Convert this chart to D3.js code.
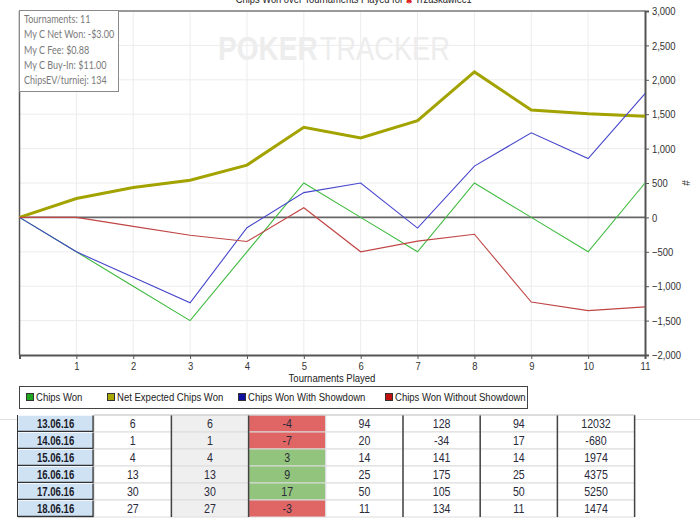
<!DOCTYPE html>
<html><head><meta charset="utf-8">
<script src="https://cdn.jsdelivr.net/npm/d3@7"></script>
<style>body{margin:0;background:#fff;overflow:hidden}svg{display:block}</style>
</head><body>
<script>
// ---- data ----
const tournaments = [0,1,2,3,4,5,6,7,8,9,10,11];
const chipsWon       = [0,-500,-1000,-1500,-500,500,0,-500,500,0,-500,500];
const netExpected    = [0,275,435,540,760,1310,1155,1405,2115,1560,1505,1470];
const wonShowdown    = [0,-500,-870,-1240,-150,360,500,-155,745,1230,855,1800];
const wonNoShowdown  = [0,0,-130,-260,-350,140,-500,-345,-245,-1230,-1355,-1300];
const yTicks = [-2000,-1500,-1000,-500,0,500,1000,1500,2000,2500,3000];
const xTicks = [1,2,3,4,5,6,7,8,9,10,11];
const legendLabels = ["Chips Won","Net Expected Chips Won","Chips Won With Showdown","Chips Won Without Showdown"];
const infoLines = ["Tournaments: 11","My C Net Won: -$3.00","My C Fee: $0.88","My C Buy-In: $11.00","ChipsEV/turniej: 134"];
const dates = ["13.06.16","14.06.16","15.06.16","16.06.16","17.06.16","18.06.16"];
const colA = [6,1,4,13,30,27];
const colB = [6,1,4,13,30,27];
const colC = [-4,-7,3,9,17,-3];
const colD = [94,20,14,25,50,11];
const colE = [128,-34,141,175,105,134];
const colF = [94,17,14,25,50,11];
const colG = [12032,-680,1974,4375,5250,1474];

const series = [
  {name:legendLabels[0], values:chipsWon, color:"#3dba3d", width:1.1, sw:"#1fa51f"},
  {name:legendLabels[1], values:netExpected, color:"#a3a300", width:3, sw:"#a8a800"},
  {name:legendLabels[2], values:wonShowdown, color:"#4545cc", width:1.1, sw:"#1010a0"},
  {name:legendLabels[3], values:wonNoShowdown, color:"#c04545", width:1.1, sw:"#c01010"}
];
const sans = "'Liberation Sans',Arial,sans-serif";
// horizontally condense a text element by scaling around its anchor point
function condense(sel,k){
  sel.each(function(){
    const s=d3.select(this);
    const tx=+s.attr("x")||0, ty=+s.attr("y")||0;
    const prev=s.attr("transform")||"";
    s.attr("x",0).attr("y",0).attr("transform",`${prev} translate(${tx},${ty}) scale(${k},1)`);
  });
}

const W=700,H=522;
const svg = d3.select("body").append("svg").attr("width",W).attr("height",H);
const L=19.5,R=645,T=11,B=355;
const x = d3.scaleLinear().domain([0,11]).range([L,R]);
const y = d3.scaleLinear().domain([-2000,3000]).range([B,T]);

// title (partly above the top edge, as in the source)
const t1 = svg.append("text").attr("x",403).attr("y",3).attr("text-anchor","end")
  .attr("font-family",sans).attr("font-size",11).attr("fill","#222").text("Chips Won over Tournaments Played for");
condense(t1,0.85);
svg.append("text").attr("x",409).attr("y",4).attr("text-anchor","middle")
  .attr("font-family","'DejaVu Sans',sans-serif").attr("font-size",9).attr("fill","#e02020").text("♠");
const t3 = svg.append("text").attr("x",415).attr("y",3)
  .attr("font-family",sans).attr("font-size",11).attr("fill","#222").text("Trzaskawiec1");
condense(t3,0.85);

// grid
svg.append("g").selectAll("line").data(xTicks.slice(0,-1)).join("line")
  .attr("x1",d=>x(d)).attr("x2",d=>x(d)).attr("y1",T).attr("y2",B)
  .attr("stroke","#ececec").attr("stroke-width",1);
svg.append("g").selectAll("line").data(yTicks.filter(v=>v!==0&&v!==3000&&v!==-2000)).join("line")
  .attr("x1",L).attr("x2",R).attr("y1",d=>y(d)).attr("y2",d=>y(d))
  .attr("stroke","#ececec").attr("stroke-width",1);

// watermark
const wm1 = svg.append("text").attr("x",218).attr("y",60).attr("font-family",sans).attr("font-weight","bold")
  .attr("font-size",33).attr("fill","#ededed").text("POKER");
const w1 = wm1.node().getComputedTextLength();
condense(wm1,0.85);
const wm2 = svg.append("text").attr("font-family",sans)
  .attr("font-size",33).attr("fill","#ededed").text("TRACKER");
const w2 = wm2.node().getComputedTextLength();
const x2 = 218 + w1*0.85 + 2;
wm2.attr("x",x2).attr("y",60);
condense(wm2,(450-x2)/w2);

// frame
svg.append("line").attr("x1",L).attr("x2",R).attr("y1",T).attr("y2",T).attr("stroke","#999").attr("stroke-width",2);
svg.append("line").attr("x1",L).attr("x2",L).attr("y1",T).attr("y2",B).attr("stroke","#555").attr("stroke-width",1.5);
// zero line
svg.append("line").attr("x1",L).attr("x2",R).attr("y1",y(0)).attr("y2",y(0)).attr("stroke","#666").attr("stroke-width",1.6);

// axes
const yAxis = d3.axisRight(y).tickValues(yTicks).tickSize(4).tickPadding(3).tickFormat(d3.format(","));
const gy = svg.append("g").attr("transform",`translate(${R},0)`).call(yAxis);
gy.select(".domain").attr("stroke","#555").attr("stroke-width",2);
gy.selectAll(".tick line").attr("stroke","#555");
gy.selectAll("text").attr("font-family",sans).attr("font-size",11.5).attr("fill","#333")
  .attr("textLength",function(){return this.getComputedTextLength()*0.82;}).attr("lengthAdjust","spacingAndGlyphs");

const xAxis = d3.axisBottom(x).tickValues(xTicks).tickSize(4).tickPadding(3).tickFormat(d3.format("d"));
const gx = svg.append("g").attr("transform",`translate(0,${B})`).call(xAxis);
gx.select(".domain").attr("stroke","#555").attr("stroke-width",2);
gx.selectAll(".tick line").attr("stroke","#555");
gx.selectAll("text").attr("font-family",sans).attr("font-size",11.5).attr("fill","#333")
  .attr("textLength",function(){return this.getComputedTextLength()*0.82;}).attr("lengthAdjust","spacingAndGlyphs");

const xl = svg.append("text").attr("x",332).attr("y",382).attr("text-anchor","middle")
  .attr("font-family",sans).attr("font-size",11.5).attr("fill","#222").text("Tournaments Played");
condense(xl,0.83);
svg.append("text").attr("transform","translate(682,183) rotate(90)").attr("text-anchor","middle")
  .attr("font-family",sans).attr("font-size",10).attr("fill","#333").text("#");

// lines
const line = d3.line().x((d,i)=>x(tournaments[i])).y(d=>y(d));
const order = [1,0,2,3];
svg.append("g").selectAll("path").data(order.map(i=>series[i])).join("path")
  .attr("d",d=>line(d.values)).attr("fill","none")
  .attr("stroke",d=>d.color).attr("stroke-width",d=>d.width).attr("stroke-linejoin","miter");

// info box
const ib = svg.append("g");
ib.append("rect").attr("x",19.5).attr("y",10.5).attr("width",99).attr("height",81)
  .attr("fill","#fff").attr("stroke","#8a8a8a").attr("stroke-width",1);
const it = ib.selectAll("text").data(infoLines).join("text")
  .attr("x",24).attr("y",(d,i)=>23+i*15.3)
  .attr("font-family","Lato,'Open Sans',sans-serif").attr("font-size",10.5).attr("fill","#7a7a7a").text(d=>d);
condense(it,0.86);

// legend
const lg = svg.append("g");
lg.append("rect").attr("x",19.5).attr("y",386.5).attr("width",508).attr("height",22)
  .attr("fill","#fff").attr("stroke","#444").attr("stroke-width",1);
const lgX = [26,107,238,385];
const items = lg.selectAll("g.it").data(series).join("g").attr("class","it")
  .attr("transform",(d,i)=>`translate(${lgX[i]},397)`);
items.append("rect").attr("x",0.5).attr("y",-3.5).attr("width",7).attr("height",7)
  .attr("fill",d=>d.sw).attr("stroke","#333").attr("stroke-width",1);
const lt = items.append("text").attr("x",10).attr("y",4).attr("font-family",sans).attr("font-size",11.5)
  .attr("fill","#222").text(d=>d.name);
condense(lt,0.83);

// page divider line
svg.append("line").attr("x1",0).attr("x2",W).attr("y1",419.5).attr("y2",419.5).attr("stroke","#e2e2e2");

// table
const rowsData = dates.map((d,i)=>[d,colA[i],colB[i],colC[i],colD[i],colE[i],colF[i],colG[i]]);
const colX = d3.range(9).map(i=>17+i*77.2);
const rowY = d3.scaleBand().domain(d3.range(dates.length)).range([415,517]).padding(0);
const tbl = svg.append("g");
tbl.append("rect").attr("x",colX[0]).attr("y",415).attr("width",colX[8]-colX[0]).attr("height",102).attr("fill","#fff");
rowsData.forEach((row,ri)=>{
  const yy = rowY(ri), h = rowY.bandwidth();
  row.forEach((v,ci)=>{
    let fill = "#fff";
    if(ci===0) fill="#cfe2f3";
    else if(ci===2) fill="#efefef";
    else if(ci===3) fill = v<0 ? "#e06666" : "#93c47d";
    tbl.append("rect").attr("x",colX[ci]).attr("y",yy).attr("width",colX[ci+1]-colX[ci]).attr("height",h)
      .attr("fill",fill).attr("stroke",ci===0?"none":"#dcdcdc").attr("stroke-width",1);
    if(ci===0){
      tbl.append("path").attr("d",`M${colX[0]+1},${yy+h-1}V${yy+0.5}H${colX[1]-1}`)
        .attr("fill","none").attr("stroke","#f2f8fd").attr("stroke-width",1);
      tbl.append("path").attr("d",`M${colX[0]+1},${yy+h-0.5}H${colX[1]-1}V${yy+0.5}`)
        .attr("fill","none").attr("stroke","#333").attr("stroke-width",1.6);
      tbl.append("line").attr("x1",colX[0]+0.5).attr("x2",colX[0]+0.5).attr("y1",yy).attr("y2",yy+h)
        .attr("stroke","#333").attr("stroke-width",1);
    }
    const t = tbl.append("text").attr("x",(colX[ci]+colX[ci+1])/2).attr("y",yy+h/2+4.5)
      .attr("text-anchor","middle").attr("font-family",sans).attr("font-size",ci===0?12:12.5)
      .attr("font-weight",ci===0?"bold":"normal").attr("fill",ci===0?"#1a1a2a":"#2a2a3a").text(v);
    condense(t, ci===0?0.8:0.85);
  });
});
// vertical dividers
tbl.selectAll("line.v").data([2,3,5,6,7,8]).join("line").attr("class","v")
  .attr("x1",d=>colX[d]).attr("x2",d=>colX[d]).attr("y1",415).attr("y2",517)
  .attr("stroke","#444").attr("stroke-width",1.5);
tbl.append("line").attr("x1",colX[1]).attr("x2",colX[8]).attr("y1",415).attr("y2",415).attr("stroke","#ccc");
</script>
</body></html>
